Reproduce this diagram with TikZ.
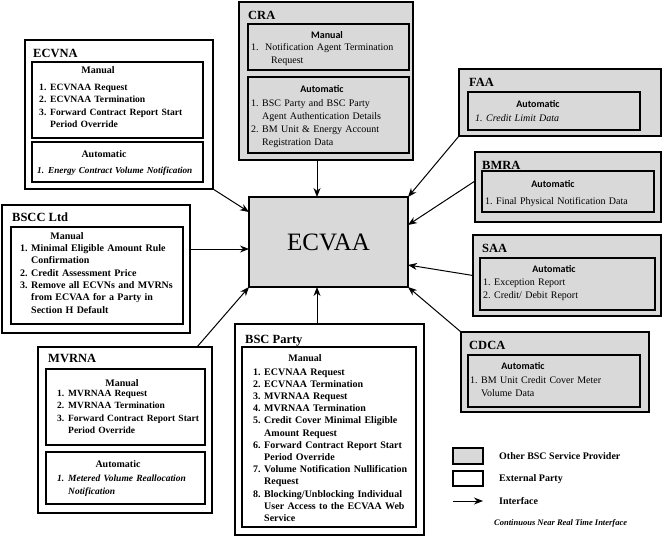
\documentclass[tikz,border=0pt]{standalone}
\usepackage{fontspec}
\setmainfont{Liberation Serif}
\newfontfamily\hfont{Carlito}
\usetikzlibrary{arrows.meta,calc}
\definecolor{boxgray}{RGB}{217,217,217}
\newlength\itind
\setlength\itind{11pt}
\newcommand\itm[2]{\hangindent=\itind\hangafter=1\noindent\makebox[\itind][l]{#1}#2\par}
\newcommand\bx[6]{%
  \pgfmathsetmacro\bxcx{(#2+#4)/2}\pgfmathsetmacro\bxcy{(#3+#5)/2}%
  \pgfmathsetmacro\bxw{#4-#2}\pgfmathsetmacro\bxh{#5-#3}%
  \node[#6, minimum width=\bxw pt, minimum height=\bxh pt] (#1) at (\bxcx,\bxcy) {};}
\tikzset{
  outerg/.style={draw, line width=1.6pt, fill=boxgray, inner sep=0pt, outer sep=0pt},
  outerw/.style={draw, line width=1.6pt, fill=white, inner sep=0pt, outer sep=0pt},
  innerbox/.style={draw, line width=1.6pt, inner sep=0pt, outer sep=0pt},
  ttl/.style={anchor=base west, inner sep=0pt, font=\bfseries\fontsize{12.5}{15}\selectfont},
  hdgS/.style={anchor=base, inner sep=0pt, font=\hfont\bfseries\fontsize{10}{12}\selectfont},
  hdgB/.style={anchor=base, inner sep=0pt, font=\bfseries\fontsize{10}{12}\selectfont},
  lst/.style={anchor=base west, inner sep=0pt, text width=190pt, align=left, font=\fontsize{10}{13}\selectfont},
  lstB/.style={anchor=base west, inner sep=0pt, text width=190pt, align=left, font=\bfseries\fontsize{10}{12.3}\selectfont},
  leg/.style={anchor=base west, inner sep=0pt, font=\bfseries\fontsize{10}{12}\selectfont},
  arr/.style={-{Stealth[length=9pt,width=7pt]}, line width=1pt},
}
\begin{document}
\begin{tikzpicture}[x=1pt,y=-1pt]
\useasboundingbox[fill=white] (0,0) rectangle (663,543);

% ---------- ECVAA ----------
\bx{ecvaa}{249}{197}{408}{287}{outerg}
\node[font=\fontsize{25}{28}\selectfont, inner sep=0pt] (ecvaat) at (ecvaa.center) {ECVAA};

% ---------- CRA ----------
\bx{cra}{239}{2}{413}{160}{outerg}
\node[ttl] (crat) at (248,19.5) {CRA};
\bx{cram}{248}{24}{409}{70}{innerbox}
\node[hdgS] (cramh) at (327,39) {Manual};
\node[lst] (crami) at (251,51) {\setlength\itind{14pt}\itm{1.}{Notification Agent Termination\newline\hspace*{6pt}Request}};
\bx{craa}{248}{77}{409}{153}{innerbox}
\node[hdgS] (craah) at (322,92) {Automatic};
\node[lst] (craai) at (251,106) {\itm{1.}{BSC Party and BSC Party\newline Agent Authentication Details}\itm{2.}{BM Unit \& Energy Account\newline Registration Data}};

% ---------- ECVNA ----------
\bx{ecvna}{25}{40}{213}{189}{outerw}
\node[ttl] (ecvnat) at (33,57) {ECVNA};
\bx{ecvnam}{32}{62}{203}{138}{innerbox}
\node[hdgB] (ecvnamh) at (98,74) {Manual};
\node[lstB, font=\bfseries\fontsize{9.6}{12.3}\selectfont] (ecvnami) at (39,90.5) {\itm{1.}{ECVNAA Request}\itm{2.}{ECVNAA Termination}\itm{3.}{Forward Contract Report Start\newline Period Override}};
\bx{ecvnaa}{32}{142}{203}{182}{innerbox}
\node[hdgB] (ecvnaah) at (104,157) {Automatic};
\node[lstB, font=\bfseries\itshape\fontsize{9.2}{12.3}\selectfont] (ecvnaai) at (37,173.5) {\itm{1.}{Energy Contract Volume Notification}};

% ---------- BSCC Ltd ----------
\bx{bscc}{2}{205}{190}{333}{outerw}
\node[ttl] (bscct) at (12,221.5) {BSCC Ltd};
\bx{bsccm}{11}{227}{183}{324}{innerbox}
\node[hdgB] (bsccmh) at (67,239) {Manual};
\node[lstB] (bsccmi) at (20,251.5) {\itm{1.}{Minimal Eligible Amount Rule\newline Confirmation}\itm{2.}{Credit Assessment Price}\itm{3.}{Remove all ECVNs and MVRNs\newline from ECVAA for a Party in\newline Section H Default}};

% ---------- MVRNA ----------
\bx{mvrna}{38}{347}{212}{513}{outerw}
\node[ttl] (mvrnat) at (48,362.5) {MVRNA};
\bx{mvrnam}{46}{369}{205}{445}{innerbox}
\node[hdgB] (mvrnamh) at (122,386) {Manual};
\node[lstB, font=\bfseries\fontsize{9.5}{12.3}\selectfont] (mvrnami) at (57,396.5) {\itm{1.}{MVRNAA Request}\itm{2.}{MVRNAA Termination}\itm{3.}{Forward Contract Report Start\newline Period Override}};
\bx{mvrnaa}{46}{452}{205}{504}{innerbox}
\node[hdgB] (mvrnaah) at (118,467) {Automatic};
\node[lstB, font=\bfseries\itshape\fontsize{9.5}{13}\selectfont] (mvrnaai) at (57,481.5) {\itm{1.}{Metered Volume Reallocation\newline Notification}};

% ---------- BSC Party ----------
\bx{bscp}{235}{324}{424}{535}{outerw}
\node[ttl] (bscpt) at (245,343) {BSC Party};
\bx{bscpm}{242}{347}{416}{527}{innerbox}
\node[hdgB] (bscpmh) at (305,361) {Manual};
\node[lstB, font=\bfseries\fontsize{10}{12.2}\selectfont] (bscpmi) at (253,375) {\itm{1.}{ECVNAA Request}\itm{2.}{ECVNAA Termination}\itm{3.}{MVRNAA Request}\itm{4.}{MVRNAA Termination}\itm{5.}{Credit Cover Minimal Eligible\newline Amount Request}\itm{6.}{Forward Contract Report Start\newline Period Override}\itm{7.}{Volume Notification Nullification\newline Request}\itm{8.}{Blocking/Unblocking Individual\newline User Access to the ECVAA Web\newline Service}};

% ---------- FAA ----------
\bx{faa}{459}{69}{661}{136}{outerg}
\node[ttl] (faat) at (469,86.5) {FAA};
\bx{faaa}{468}{92}{640}{130}{innerbox}
\node[hdgS] (faaah) at (538,107) {Automatic};
\node[lst, font=\itshape\fontsize{10}{13}\selectfont] (faaai) at (475,121.5) {\itm{1.}{Credit Limit Data}};

% ---------- BMRA ----------
\bx{bmra}{475}{152}{661}{222}{outerg}
\node[ttl] (bmrat) at (482,169.5) {BMRA};
\bx{bmraa}{482}{171}{654}{212}{innerbox}
\node[hdgS] (bmraah) at (553,187) {Automatic};
\node[lst] (bmraai) at (485,204.5) {\itm{1.}{Final Physical Notification Data}};

% ---------- SAA ----------
\bx{saa}{473}{235}{661}{316}{outerg}
\node[ttl] (saat) at (482,252.5) {SAA};
\bx{saaa}{480}{258}{655}{310}{innerbox}
\node[hdgS] (saaah) at (554,272) {Automatic};
\node[lst] (saaai) at (483,285.5) {\itm{1.}{Exception Report}\itm{2.}{Credit/ Debit Report}};

% ---------- CDCA ----------
\bx{cdca}{461}{332}{649}{412}{outerg}
\node[ttl] (cdcat) at (469,349.5) {CDCA};
\bx{cdcaa}{468}{355}{640}{407}{innerbox}
\node[hdgS] (cdcaah) at (523,369.5) {Automatic};
\node[lst] (cdcaai) at (470,383.5) {\itm{1.}{BM Unit Credit Cover Meter\newline Volume Data}};

% ---------- interfaces ----------
\coordinate (inEcvna) at (249,212);
\coordinate (inBscc) at (249,249);
\coordinate (inCra) at (317,197);
\coordinate (inBscp) at (317,287);
\coordinate (inBmra) at (408,225);
\coordinate (inSaa) at (408,265);
\coordinate (outMvrna) at (197,347);
\coordinate (outBmra) at (475,181);
\draw[arr] (ecvna.south east) -- (inEcvna);
\draw[arr] (bscc.east |- inBscc) -- (inBscc);
\draw[arr] (outMvrna) -- (ecvaa.south west);
\draw[arr] (inCra |- cra.south) -- (inCra);
\draw[arr] (inBscp |- bscp.north) -- (inBscp);
\draw[arr] (faa.south west) -- (ecvaa.north east);
\draw[arr] (outBmra) -- (inBmra);
\draw[arr] (saa.west) -- (inSaa);
\draw[arr] (cdca.north west) -- (ecvaa.south east);

% ---------- legend ----------
\bx{lgg}{453}{448}{483}{464}{outerg}
\bx{lgw}{453}{471}{483}{486}{outerw}
\coordinate (lga) at (453,501);
\coordinate (lgb) at (483,501);
\draw[arr] (lga) -- (lgb);
\node[leg] (lt1) at (499,459.5) {Other BSC Service Provider};
\node[leg] (lt2) at (499,481.5) {External Party};
\node[leg] (lt3) at (499,504.5) {Interface};
\node[leg, font=\bfseries\itshape\fontsize{8.5}{11}\selectfont] (lt4) at (494,525.5) {Continuous Near Real Time Interface};
\end{tikzpicture}
\end{document}
